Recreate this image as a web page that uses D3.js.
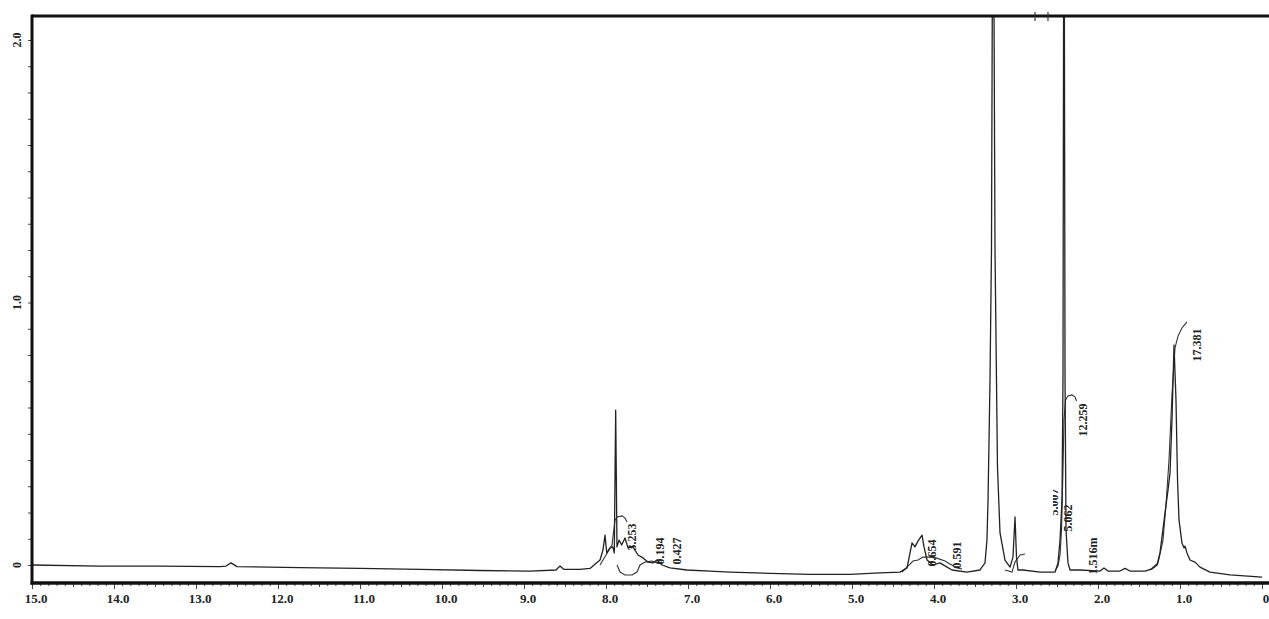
<!DOCTYPE html>
<html>
<head>
<meta charset="utf-8">
<script src="https://cdn.jsdelivr.net/npm/d3@7"></script>
<style>
  body { margin: 0; background: #fff; }
  svg { display: block; }
  .lbl { font-family: "Liberation Serif", "DejaVu Serif", serif; font-weight: bold; fill: #222; }
</style>
</head>
<body>
<div id="chart"></div>
<script>
// 1H NMR trace, [ppm, intensity]
var spectrum = [
  [15.0, 0.000], [14.171, -0.004], [13.439, -0.004], [12.707, -0.006], [12.634, -0.004],
  [12.573, 0.008], [12.500, -0.006], [11.732, -0.010], [11.000, -0.013], [10.268, -0.017],
  [9.537, -0.021], [8.927, -0.023], [8.610, -0.019], [8.561, -0.004], [8.512, -0.017],
  [8.317, -0.017], [8.195, -0.013], [8.073, 0.019], [8.037, 0.057], [8.012, 0.114],
  [7.991, 0.046], [7.951, 0.065], [7.918, 0.069], [7.899, 0.046], [7.882, 0.590],
  [7.866, 0.069], [7.841, 0.095], [7.809, 0.076], [7.768, 0.103], [7.732, 0.065],
  [7.671, 0.069], [7.610, 0.038], [7.549, 0.027], [7.488, 0.011], [7.427, 0.008],
  [7.378, 0.019], [7.317, 0.000], [7.220, -0.011], [7.012, -0.019], [6.732, -0.023],
  [6.488, -0.027], [6.000, -0.032], [5.512, -0.036], [5.024, -0.036], [4.659, -0.030],
  [4.415, -0.027], [4.329, -0.011], [4.268, 0.084], [4.232, 0.069], [4.195, 0.091],
  [4.146, 0.114], [4.122, 0.069], [4.085, 0.019], [4.012, 0.000], [3.927, 0.008],
  [3.841, -0.008], [3.780, -0.019], [3.598, -0.027], [3.439, -0.019], [3.378, 0.008],
  [3.354, 0.095], [3.341, 0.248], [3.329, 0.476], [3.317, 0.705], [3.299, 1.2],
  [3.280, 3.0], [3.256, 1.2], [3.238, 0.705], [3.226, 0.373], [3.195, 0.122],
  [3.134, 0.019], [3.073, -0.008], [3.037, 0.030], [3.012, 0.183], [2.994, 0.030],
  [2.976, -0.019], [2.915, -0.019], [2.707, -0.027], [2.524, -0.027], [2.488, 0.008],
  [2.463, 0.095], [2.439, 0.248], [2.427, 0.705], [2.415, 3.0], [2.402, 0.705],
  [2.390, 0.133], [2.366, 0.008], [2.341, -0.019], [2.220, -0.019], [1.976, -0.023],
  [1.927, -0.011], [1.878, -0.023], [1.732, -0.023], [1.671, -0.013], [1.610, -0.023],
  [1.427, -0.023], [1.341, -0.015], [1.280, 0.000], [1.244, 0.046], [1.183, 0.198],
  [1.146, 0.286], [1.122, 0.350], [1.098, 0.552], [1.073, 0.838], [1.049, 0.629],
  [1.030, 0.324], [1.012, 0.171], [0.976, 0.084], [0.951, 0.065], [0.939, 0.072],
  [0.915, 0.046], [0.878, 0.019], [0.817, 0.011], [0.756, -0.008], [0.634, -0.027],
  [0.390, -0.038], [0.000, -0.046]
];

// integral curves
var integralAr1 = [[8.073, 0.000], [8.000, 0.038], [7.927, 0.076], [7.890, 0.171], [7.866, 0.183], [7.805, 0.187], [7.768, 0.179], [7.744, 0.164]];
var integralAr2 = [[7.866, 0.000], [7.829, -0.027], [7.768, -0.038], [7.683, -0.038], [7.622, -0.027], [7.585, 0.000], [7.524, 0.011], [7.439, 0.015], [7.378, 0.008], [7.317, 0.011]];
var integral42 = [[4.390, -0.027], [4.317, -0.004], [4.256, 0.015], [4.195, 0.019], [4.134, 0.030], [4.061, 0.030], [3.976, 0.027], [3.866, 0.015], [3.805, 0.004], [3.720, -0.011], [3.659, -0.015]];
var integral30 = [[3.134, -0.019], [3.049, -0.027], [3.012, 0.011], [2.951, 0.038], [2.890, 0.042]];
var integral25 = [[2.524, -0.023], [2.488, -0.004], [2.463, 0.038], [2.445, 0.133], [2.427, 0.362], [2.415, 0.552], [2.396, 0.629], [2.366, 0.644], [2.317, 0.648], [2.280, 0.640], [2.262, 0.625]];
var integral11 = [[1.366, -0.019], [1.268, 0.008], [1.207, 0.095], [1.171, 0.229], [1.134, 0.400], [1.098, 0.648], [1.061, 0.827], [1.024, 0.872], [0.976, 0.903], [0.915, 0.926]];
var integrals = [integralAr1, integralAr2, integral42, integral30, integral25, integral11];

// integral values, printed next to the curves
var integralText = ["3.253", "0.194", "0.427", "0.654", "0.591", "5.007", "5.062", "1.516m", "12.259", "17.381"];
var integralPpm  = [7.683, 7.341, 7.134, 4.024, 3.720, 2.537, 2.366, 2.061, 2.183, 0.793];
var integralVal  = [0.107, 0.053, 0.053, 0.046, 0.038, 0.240, 0.179, 0.034, 0.552, 0.838];

var xTickLabels = ["15.0", "14.0", "13.0", "12.0", "11.0", "10.0", "9.0", "8.0", "7.0", "6.0", "5.0", "4.0", "3.0", "2.0", "1.0", "0"];
var yTickLabels = ["0", "1.0", "2.0"];
var topMarks = [2.768, 2.610];

var width = 1269, height = 619;

var svg = d3.select('#chart').append('svg')
  .attr('width', width).attr('height', height);

var x = d3.scaleLinear().domain([15, 0]).range([32, 1262]);
var y = d3.scaleLinear().domain([0, 2]).range([565, 40]);

var plotTop = 16, plotBottom = 583;

svg.append('clipPath').attr('id', 'plot')
  .append('rect').attr('x', 32).attr('y', plotTop).attr('width', width - 32).attr('height', plotBottom - plotTop);

var line = d3.line().x(function (d) { return x(d[0]); }).y(function (d) { return y(d[1]); });

var g = svg.append('g').attr('clip-path', 'url(#plot)');

g.selectAll('.integral').data(integrals).enter().append('path')
  .attr('class', 'integral')
  .attr('d', line)
  .attr('fill', 'none').attr('stroke', '#333').attr('stroke-width', 1.1);

g.append('path').datum(spectrum)
  .attr('d', line)
  .attr('fill', 'none').attr('stroke', '#222').attr('stroke-width', 1.3)
  .attr('stroke-linejoin', 'round');

// the 5.007 value is printed half hidden in the scan
svg.append('clipPath').attr('id', 'cutlabel')
  .append('rect').attr('x', x(2.537) - 1).attr('y', 0).attr('width', 8).attr('height', height);

integralText.forEach(function (t, i) {
  var tx = x(integralPpm[i]), ty = y(integralVal[i]);
  var el = svg.append('text').attr('class', 'lbl')
    .attr('transform', 'translate(' + tx + ',' + ty + ') rotate(-90)')
    .attr('text-anchor', 'middle').attr('dy', '0.35em')
    .style('font-size', '12px')
    .text(t);
  if (t === '5.007') {
    svg.append('g').attr('clip-path', 'url(#cutlabel)').node().appendChild(el.node());
  }
});

// axes
var xAxis = d3.axisBottom(x)
  .tickValues(d3.range(0, 151).map(function (i) { return i / 10; }))
  .tickSize(3).tickFormat('');
var xa = svg.append('g').attr('transform', 'translate(0,' + plotBottom + ')').call(xAxis);
xa.select('.domain').remove();
xa.selectAll('.tick line').attr('stroke', '#444').attr('stroke-width', 1)
  .attr('y2', function (d) { return Math.abs(d - Math.round(d)) < 1e-6 ? 6 : (Math.abs(d * 2 - Math.round(d * 2)) < 1e-6 ? 4 : 3); });

svg.selectAll('.xlab').data(xTickLabels).enter().append('text')
  .attr('class', 'lbl')
  .attr('x', function (d, i) { return x(15 - i) + 4; })
  .attr('y', 603)
  .attr('text-anchor', 'middle')
  .style('font-size', '13px')
  .text(function (d) { return d; });

var yAxis = d3.axisLeft(y)
  .tickValues(d3.range(0, 21).map(function (i) { return i / 10; }))
  .tickSize(4).tickFormat('');
var ya = svg.append('g').attr('transform', 'translate(32,0)').call(yAxis);
ya.select('.domain').remove();
ya.selectAll('.tick line').attr('stroke', '#444').attr('stroke-width', 1);

svg.selectAll('.ylab').data(yTickLabels).enter().append('text')
  .attr('class', 'lbl')
  .attr('transform', function (d, i) { return 'translate(17,' + y(i) + ') rotate(-90)'; })
  .attr('text-anchor', 'middle').attr('dy', '0.35em')
  .style('font-size', '12px')
  .text(function (d) { return d; });

// frame lines
svg.append('line').attr('x1', 32).attr('x2', width).attr('y1', plotTop).attr('y2', plotTop)
  .attr('stroke', '#111').attr('stroke-width', 3);
svg.append('line').attr('x1', 32).attr('x2', 32).attr('y1', plotTop - 1.5).attr('y2', plotBottom + 1.5)
  .attr('stroke', '#111').attr('stroke-width', 3);
svg.append('line').attr('x1', 30.5).attr('x2', width).attr('y1', plotBottom).attr('y2', plotBottom)
  .attr('stroke', '#111').attr('stroke-width', 3.5);

svg.selectAll('.topmark').data(topMarks).enter().append('line')
  .attr('x1', function (d) { return x(d); }).attr('x2', function (d) { return x(d); })
  .attr('y1', plotTop - 4).attr('y2', plotTop + 5)
  .attr('stroke', '#333').attr('stroke-width', 1.2);
</script>
</body>
</html>
